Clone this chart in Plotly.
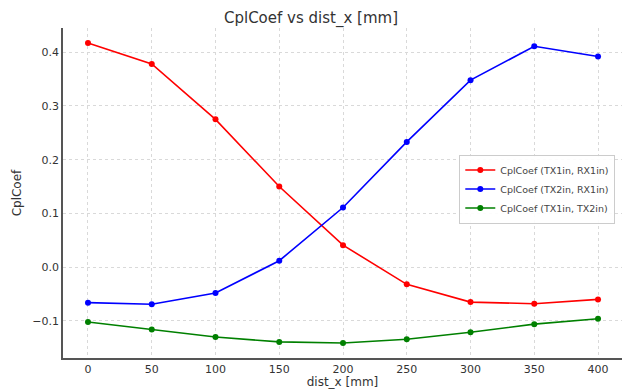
import plotly.graph_objects as go

dist_x = [0, 50, 100, 150, 200, 250, 300, 350, 400]
tx1_rx1 = [0.417, 0.378, 0.275, 0.150, 0.041, -0.032, -0.065, -0.068, -0.060]
tx2_rx1 = [-0.066, -0.069, -0.048, 0.012, 0.111, 0.233, 0.348, 0.411, 0.392]
tx1_tx2 = [-0.102, -0.116, -0.130, -0.139, -0.141, -0.134, -0.121, -0.106, -0.096]

names = ["CplCoef (TX1in, RX1in)", "CplCoef (TX2in, RX1in)", "CplCoef (TX1in, TX2in)"]
colors = ["#ff0000", "#0000ff", "#008000"]

fig = go.Figure()
for ys, n, c in zip([tx1_rx1, tx2_rx1, tx1_tx2], names, colors):
    fig.add_trace(go.Scatter(x=dist_x, y=ys, name=n, mode="lines+markers",
                             line=dict(color=c, width=1.6),
                             marker=dict(color=c, size=6)))

fig.update_layout(
    width=622, height=389,
    margin=dict(l=63, r=0, t=28, b=31),
    paper_bgcolor="white", plot_bgcolor="white",
    font=dict(family="DejaVu Sans", color="#333333", size=11),
    title=dict(text="CplCoef vs dist_x [mm]", x=0.5, xanchor="center", y=0.955, yanchor="middle",
               font=dict(size=15, color="#333333")),
    showlegend=True,
    legend=dict(x=0.988, y=0.512, xanchor="right", yanchor="middle",
                bgcolor="rgba(255,255,255,0.9)", bordercolor="#cccccc", borderwidth=1,
                font=dict(size=9.5, color="#444444"), itemwidth=30, tracegroupgap=0),
)
fig.update_xaxes(range=[-19.6, 418.8], tickvals=dist_x, showgrid=True,
                 gridcolor="#d9d9d9", griddash="dot", gridwidth=1,
                 showline=True, linecolor="#555555", linewidth=1.5, zeroline=False,
                 ticks="", title=dict(text="dist_x [mm]", standoff=4, font=dict(size=12)))
fig.update_yaxes(range=[-0.169, 0.445], tickvals=[-0.1, 0.0, 0.1, 0.2, 0.3, 0.4],
                 ticktext=["\u22120.1", "0.0", "0.1", "0.2", "0.3", "0.4"],
                 showgrid=True, gridcolor="#d9d9d9", griddash="dot", gridwidth=1,
                 showline=True, linecolor="#555555", linewidth=1.5, zeroline=False,
                 ticks="", title=dict(text="CplCoef", standoff=8, font=dict(size=12)))

fig.write_html("out.html")
